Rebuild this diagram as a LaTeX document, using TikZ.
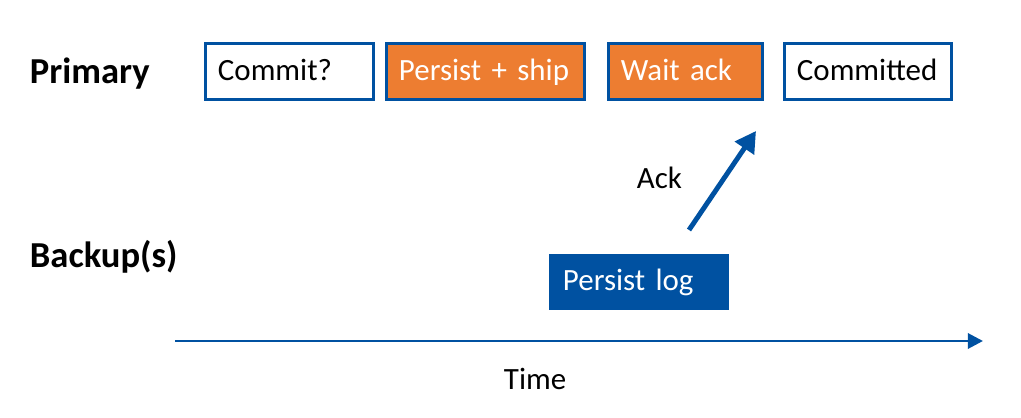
\documentclass[tikz,border=0pt]{standalone}
\usepackage{fontspec}
\setmainfont{Carlito}[WordSpace=0.85]
\usetikzlibrary{arrows.meta}
\definecolor{repblue}{RGB}{0,81,161}
\definecolor{reporange}{RGB}{237,125,49}

\begin{document}
\begin{tikzpicture}[x=0.025cm,y=-0.025cm,
  every node/.style={font=\fontsize{22}{26}\selectfont},
  stage/.style={draw=repblue,line width=2.2pt,minimum height=1.4cm,
    inner xsep=0.3125cm,align=left,text height=15.5pt,text depth=3.4pt},
  busy/.style={stage,fill=reporange,text=white},
  idle/.style={stage,fill=white,text=black},
  role/.style={anchor=base west,font=\fontsize{26}{30}\selectfont\bfseries}]

  \useasboundingbox (0,0) rectangle (1021,418);

  \node[role] (primary) at (25,84) {Primary};
  \node[role] (backup) at (25,268) {Backup(s)};

  \node[idle,text width=3.575cm] (commit) at (289.5,71.5) {Commit?};
  \node[busy,text width=4.325cm] (ship) at (485.5,71.5) {Persist + ship};
  \node[busy,text width=3.225cm] (wait) at (685.5,71.5) {Wait ack};
  \node[idle,text width=3.55cm] (done) at (868,71.5) {Committed};

  \node[stage,draw=none,fill=repblue,text=white,inner xsep=0.35cm,
    text width=3.8cm] (log) at (639,282) {Persist log};

  \coordinate (ackfrom) at (689,230);
  \coordinate (ackto) at (756,131);
  \draw[repblue,line width=3.5pt,-{Triangle[length=0.52cm,width=0.56cm]}]
    (ackfrom) -- (ackto);
  \node[anchor=base west] (ack) at (632,189) {Ack};

  \coordinate (tstart) at (175,341);
  \coordinate (tend) at (983,341);
  \draw[repblue,line width=2.1pt,-{Triangle[length=0.38cm,width=0.38cm]}]
    (tstart) -- (tend);
  \node[anchor=base west] (time) at (499,390) {Time};

\end{tikzpicture}
\end{document}
